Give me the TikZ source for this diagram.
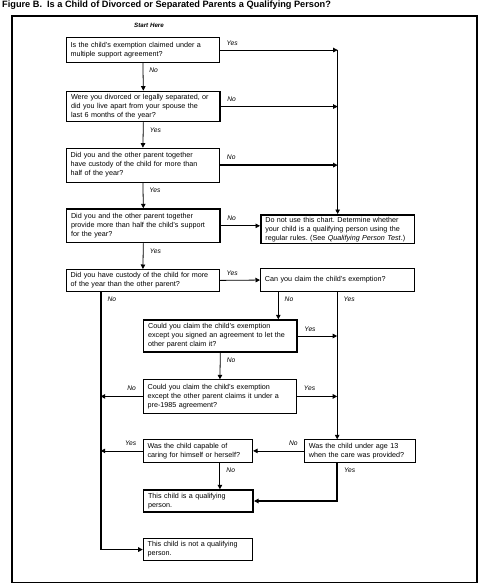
\documentclass[tikz,border=0pt]{standalone}
\usepackage{fontspec}
\setmainfont{Liberation Sans}
\usetikzlibrary{arrows.meta}
\frenchspacing
\begin{document}
\begin{tikzpicture}[>={Triangle[length=4.5pt,width=4.5pt]},x=1pt,y=-1pt,
	box/.style={draw,line width=0.8pt,align=left,anchor=north west,inner xsep=4.5pt,inner ysep=0pt,font=\fontsize{7.2}{9}\selectfont},
	heavy/.style={line width=1.7pt},
	thin1/.style={line width=0.8pt},
	wide/.style={text width=144.6pt,minimum width=153.6pt},
	narrow/.style={text width=100.6pt,minimum width=109.6pt},
	lbl/.style={inner sep=1pt,font=\fontsize{6.7}{7}\selectfont\itshape},
	hl/.style={lbl,anchor=south west,xshift=5pt,yshift=3.5pt},
	hll/.style={lbl,anchor=south east,xshift=-5pt,yshift=3.5pt},
	vl/.style={lbl,anchor=north west,xshift=5pt,yshift=-4pt}]
		\useasboundingbox (0,0) rectangle (479,585);
		\node[anchor=west,inner sep=0pt,font=\bfseries\fontsize{9.2}{10}\selectfont] (title) at (2,5) {Figure B.\ \ Is a Child of Divorced or Separated Parents a Qualifying Person?};
		\draw[line width=1.3pt] (12,16) rectangle (477,582.7);
		\node[inner sep=0pt,font=\bfseries\itshape\fontsize{6.2}{7}\selectfont] (start) at (149,25) {Start Here};
		% left column of questions
		\node[box,wide,minimum height=24.7pt] (q1) at (65.7,37.3) {Is the child’s exemption claimed under a\\multiple support agreement?};
		\node[box,wide,heavy,minimum height=30pt] (q2) at (65.7,90.7) {Were you divorced or legally separated, or\\did you live apart from your spouse the\\last 6 months of the year?};
		\node[box,wide,minimum height=34pt] (q3) at (65.7,147.7) {Did you and the other parent together\\have custody of the child for more than\\half of the year?};
		\node[box,wide,heavy,minimum height=33.4pt] (q4) at (65.7,208.3) {Did you and the other parent together\\provide more than half the child’s support\\for the year?};
		\node[box,wide,minimum height=22pt] (q5) at (65.7,269) {Did you have custody of the child for more\\of the year than the other parent?};
		\node[box,wide,heavy,minimum height=28.7pt] (stop) at (260,214) {Do not use this chart. Determine whether\\your child is a qualifying person using the\\regular rules. (See \textit{Qualifying Person Test}.)};
		\node[box,wide,minimum height=22.7pt] (q6) at (260,268.3) {Can you claim the child’s exemption?};
		\node[box,wide,heavy,minimum height=31.7pt] (q7) at (142.7,319.3) {Could you claim the child’s exemption\\except you signed an agreement to let the\\other parent claim it?};
		\node[box,wide,minimum height=33.4pt] (q8) at (142.7,379.3) {Could you claim the child’s exemption\\except the other parent claims it under a\\pre-1985 agreement?};
		\node[box,narrow,text width=102pt,minimum width=111pt,minimum height=22.4pt] (q9) at (304,439.3) {Was the child under age 13\\when the care was provided?};
		\node[box,narrow,minimum height=22.4pt] (q10) at (142.7,439.3) {Was the child capable of\\caring for himself or herself?};
		\node[box,narrow,heavy,minimum height=21.7pt] (q11) at (142.7,489.3) {This child is a qualifying\\person.};
		\node[box,narrow,minimum height=21.7pt] (q12) at (142.7,538.3) {This child is not a qualifying\\person.};
		\coordinate (nl) at (100.7,291);
		\coordinate (c6) at (278.3,291);
		% connectors
		\draw[->,thin1] (q1.east) node[hl]{Yes} -- (q1.east -| stop.north);
		\draw[->,thin1] (q1.south) node[vl]{No} -- (q2.north);
		\draw[->,thin1] (q2.east) node[hl]{No} -- (q2.east -| stop.north);
		\draw[->,thin1] (q2.south) node[vl]{Yes} -- (q3.north);
		\draw[->,heavy] (q3.east) node[hl]{No} -- (q3.east -| stop.north);
		\draw[->,thin1] (q3.south) node[vl]{Yes} -- (q4.north);
		\draw[->,thin1] (q1.east -| stop.north) -- (stop.north);
		\draw[->,thin1] (q4.east) node[hl]{No} -- (q4.east -| stop.west);
		\draw[->,thin1] (q4.south) node[vl]{Yes} -- (q5.north);
		\draw[->,thin1] (q5.east) node[hl]{Yes} -- (q6.west);
		\draw[->,heavy] (nl) node[vl]{No} |- (q12.west);
		\draw[->,thin1] (c6) node[vl]{No} -- (c6 |- q7.north);
		\draw[->,thin1] (q6.south) node[vl]{Yes} -- (q6.south |- q9.north);
		\draw[->,thin1] (q7.east) node[hl]{Yes} -- (q7.east -| q6.south);
		\draw[->,thin1] (q7.south) node[vl]{No} -- (q8.north);
		\draw[->,heavy] (q8.west) node[hll]{No} -- (q8.west -| nl);
		\draw[->,heavy] (q8.east) node[hl]{Yes} -- (q8.east -| q6.south);
		\draw[->,thin1] (q9.west) node[hll]{No} -- (q10.east);
		\draw[->,thin1] (q10.west) node[hll]{Yes} -- (q10.west -| nl);
		\draw[->,line width=1.1pt] (q10.south -| q8.south) node[vl]{No} -- (q11.north -| q8.south);
		\draw[->,heavy] (q9.south -| q6.south) node[vl]{Yes} |- (q11.east);
\end{tikzpicture}
\end{document}
